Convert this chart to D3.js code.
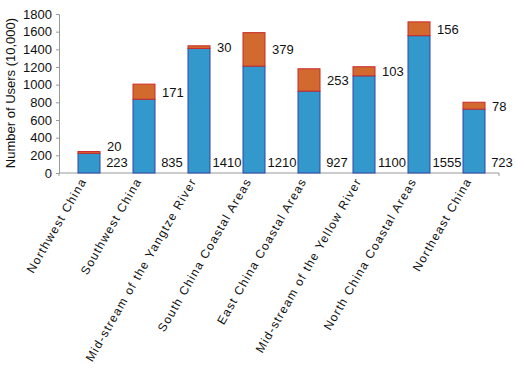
<!DOCTYPE html>
<html><head><meta charset="utf-8">
<script src="https://cdn.jsdelivr.net/npm/d3@7/dist/d3.min.js"></script>
<style>body{margin:0;background:#fff;} text{font-family:"Liberation Sans",Arial,sans-serif;}</style>
</head><body><svg id="c" width="516" height="369"></svg>
<script>
const categories = ["Northwest China","Southwest China","Mid-stream of the Yangtze River","South China Coastal Areas","East China Coastal Areas","Mid-stream of the Yellow River","North China Coastal Areas","Northeast China"];
const baseValues = [223,835,1410,1210,927,1100,1555,723];
const addValues = [20,171,30,379,253,103,156,78];
const yTicks = [0,200,400,600,800,1000,1200,1400,1600,1800];

const svg = d3.select("#c");
const x0 = 59, x1 = 499, yTop = 14, yBot = 173;
const x = d3.scaleBand().domain(categories).range([x0, x1]);
const y = d3.scaleLinear().domain([0,1800]).range([yBot, yTop]);
const barW = 22, barOff = 19;

// axes
const yAxis = d3.axisLeft(y).tickValues(yTicks).tickFormat(d3.format("d")).tickSize(3).tickPadding(4);
const gy = svg.append("g").attr("transform",`translate(${x0},0)`).call(yAxis);
gy.select(".domain").attr("stroke","#999");
gy.selectAll(".tick line").attr("stroke","#999");
gy.selectAll(".tick text").attr("font-size",13).attr("fill","#111").attr("font-family","Liberation Sans, Arial, sans-serif");

const xAxis = d3.axisBottom(x).tickSize(0).tickFormat("");
const gx = svg.append("g").attr("transform",`translate(0,${yBot})`).call(xAxis);
gx.select(".domain").attr("stroke","#999").attr("d",`M${x0},3V0H${x1}V3`);

// bars
const g = svg.append("g");
categories.forEach((c,i)=>{
  const bx = x(c) + barOff;
  g.append("rect").attr("x",bx).attr("y",y(baseValues[i])).attr("width",barW)
    .attr("height",y(0)-y(baseValues[i])).attr("fill","#3399cc").attr("stroke","#3344aa").attr("stroke-width",1);
  g.append("rect").attr("x",bx).attr("y",y(baseValues[i]+addValues[i])).attr("width",barW)
    .attr("height",y(baseValues[i])-y(baseValues[i]+addValues[i])).attr("fill","#d2692f").attr("stroke","#cc2a2a").attr("stroke-width",1);
  // labels
  g.append("text").attr("x",bx+barW+17).attr("y",y(0)-6).attr("text-anchor","middle")
    .attr("font-size",13).attr("fill","#111").text(baseValues[i]);
  let ly = y(baseValues[i]+addValues[i]/2) + 5;
  if (i===0) ly = 151;
  g.append("text").attr("x",bx+barW+7).attr("y",ly).attr("text-anchor","start")
    .attr("font-size",13).attr("fill","#111").text(addValues[i]);
});

// category labels
categories.forEach((c)=>{
  const cx = x(c) + barOff + barW/2;
  svg.append("text").attr("transform",`translate(${cx-2},${yBot+8}) rotate(-60)`)
    .attr("text-anchor","end").attr("font-size",12).attr("letter-spacing","1.25px").attr("fill","#111").text(c);
});

// y title
svg.append("text").attr("transform",`translate(15,93) rotate(-90)`).attr("text-anchor","middle")
  .attr("font-size",13).attr("fill","#111").text("Number of Users (10,000)");
</script></body></html>
